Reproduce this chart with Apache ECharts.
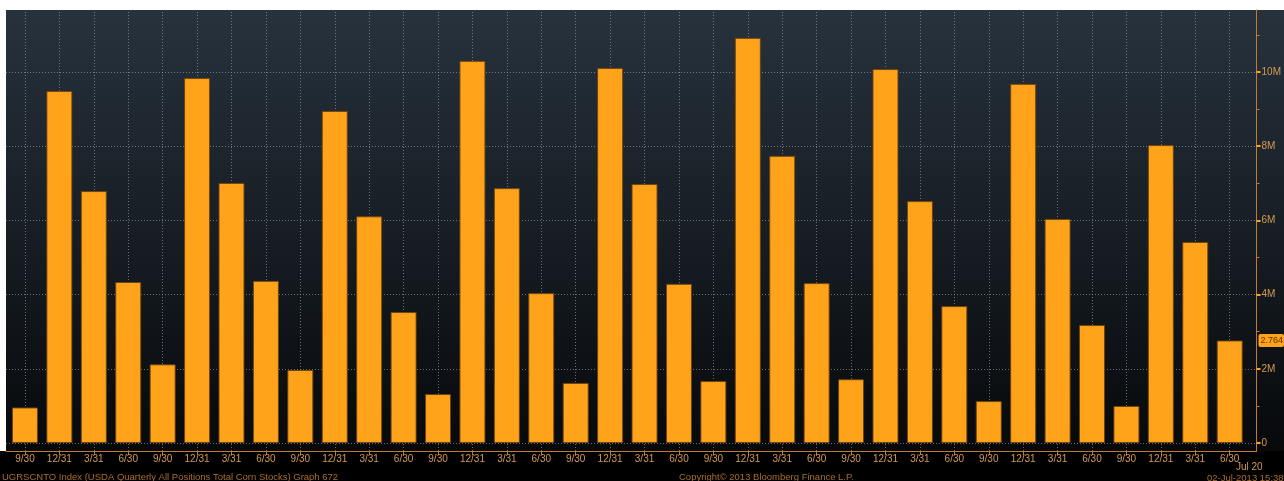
<!DOCTYPE html>
<html>
<head>
<meta charset="utf-8">
<script src="https://cdn.jsdelivr.net/npm/echarts@6/dist/echarts.min.js"></script>
<style>
  html, body { margin: 0; padding: 0; background: #000; }
  #chart { width: 1284px; height: 481px; }
</style>
</head>
<body>
<div id="chart"></div>
<script>
  // quarter end labels, 9/30/2004 .. 6/30/2013
  var quarters = ['9/30','12/31','3/31','6/30','9/30','12/31','3/31','6/30','9/30','12/31','3/31','6/30',
                  '9/30','12/31','3/31','6/30','9/30','12/31','3/31','6/30','9/30','12/31','3/31','6/30',
                  '9/30','12/31','3/31','6/30','9/30','12/31','3/31','6/30','9/30','12/31','3/31','6/30'];
  // total corn stocks (bushels)
  var stocks = [958000, 9490000, 6790000, 4340000, 2120000, 9840000, 7010000, 4370000, 1970000, 8950000, 6110000, 3530000,
                1320000, 10300000, 6870000, 4040000, 1620000, 10110000, 6980000, 4290000, 1670000, 10920000, 7740000, 4310000,
                1720000, 10080000, 6520000, 3690000, 1130000, 9680000, 6040000, 3180000, 1000000, 8030000, 5420000, 2764000];
  var yTicks = [0, 2000000, 4000000, 6000000, 8000000, 10000000];
  var yMinor = [1000000, 3000000, 5000000, 7000000, 9000000, 11000000];
  var lastValue = 2764000;

  var xIdx = quarters.map(function (q, i) { return i; });
  var barData = stocks.map(function (v, i) { return [i, v]; });

  var orange = '#ffa31a';
  var axisCol = '#c27a35';
  var txtCol = '#d49a55';
  var footCol = '#a86e2c';
  var dot = 'rgba(160,170,182,0.6)';

  var chart = echarts.init(document.getElementById('chart'));
  chart.setOption({
    backgroundColor: '#000',
    animation: false,
    graphic: [
      { type: 'rect', z: -20, shape: { x: 0, y: 0, width: 1284, height: 10 }, style: { fill: '#fff' } },
      { type: 'rect', z: -20, shape: { x: 0, y: 0, width: 6, height: 451 }, style: { fill: '#fff' } },
      { type: 'rect', z: -20, shape: { x: 6, y: 10, width: 1278, height: 441 },
        style: { fill: new echarts.graphic.LinearGradient(0, 0, 0, 1, [
          { offset: 0, color: '#27323d' },
          { offset: 1, color: '#07090b' }
        ]) } },
      { type: 'text', left: 2, top: 472, style: { text: 'UGRSCNTO Index (USDA Quarterly All Positions Total Corn Stocks) Graph 672',
        fill: footCol, font: '9.5px "Liberation Sans"' } },
      { type: 'text', left: 679, top: 472, style: { text: 'Copyright\u00a9 2013 Bloomberg Finance L.P.',
        fill: footCol, font: '9.5px "Liberation Sans"' } },
      { type: 'text', left: 1236, top: 462, style: { text: 'Jul 20', fill: txtCol, font: '10px "Liberation Sans"' } },
      { type: 'text', left: 1207, top: 473, style: { text: '02-Jul-2013 15:38:14', fill: footCol, font: '9.5px "Liberation Sans"' } }
    ],
    grid: { left: 6, right: 26, top: 10, bottom: 30 },
    xAxis: {
      type: 'value',
      min: -0.551,
      max: 35.78,
      axisLine: { show: true, onZero: false, lineStyle: { color: axisCol, width: 1 } },
      axisTick: { show: true, customValues: xIdx, length: 4, lineStyle: { color: axisCol } },
      axisLabel: {
        customValues: xIdx, margin: 3, color: txtCol, fontSize: 10, fontFamily: 'Liberation Sans',
        formatter: function (v) { return quarters[Math.round(v)]; }
      },
      splitLine: { show: false }
    },
    yAxis: [{
      type: 'value',
      position: 'right',
      min: -215600,
      max: 11671000,
      axisLine: { show: true, onZero: false, lineStyle: { color: axisCol, width: 1 } },
      axisTick: { show: true, customValues: yTicks, length: 4, lineStyle: { color: orange, width: 2 } },
      axisLabel: {
        customValues: yTicks, margin: 5, color: txtCol, fontSize: 10, fontFamily: 'Liberation Sans',
        formatter: function (v) { return v === 0 ? '0' : (v / 1000000) + 'M'; }
      },
      splitLine: { show: false },
      axisPointer: {
        show: true, value: lastValue, status: 'show', triggerTooltip: false,
        lineStyle: { opacity: 0 },
        label: {
          show: true, formatter: function () { return (lastValue / 1000000).toFixed(3); },
          backgroundColor: orange, color: '#5a3200', fontSize: 9, fontFamily: 'Liberation Sans',
          padding: [2, 1, 2, 2], margin: 3, borderRadius: 2
        }
      }
    }, {
      type: 'value',
      position: 'right',
      min: -215600,
      max: 11671000,
      axisLine: { show: false, onZero: false },
      axisTick: { show: true, customValues: yMinor, length: 3, lineStyle: { color: axisCol } },
      axisLabel: { show: false },
      splitLine: { show: false }
    }],
    series: [{
      type: 'bar',
      data: barData,
      barWidth: 26,
      itemStyle: { color: orange, borderColor: 'rgba(110,65,15,0.9)', borderWidth: 1 },
      markLine: {
        silent: true,
        z: 1,
        symbol: 'none',
        label: { show: false },
        lineStyle: { color: dot, type: [1, 2], width: 1 },
        data: xIdx.map(function (i) { return { xAxis: i }; })
          .concat(yTicks.map(function (v) { return { yAxis: v }; }))
      }
    }]
  });
</script>
</body>
</html>
